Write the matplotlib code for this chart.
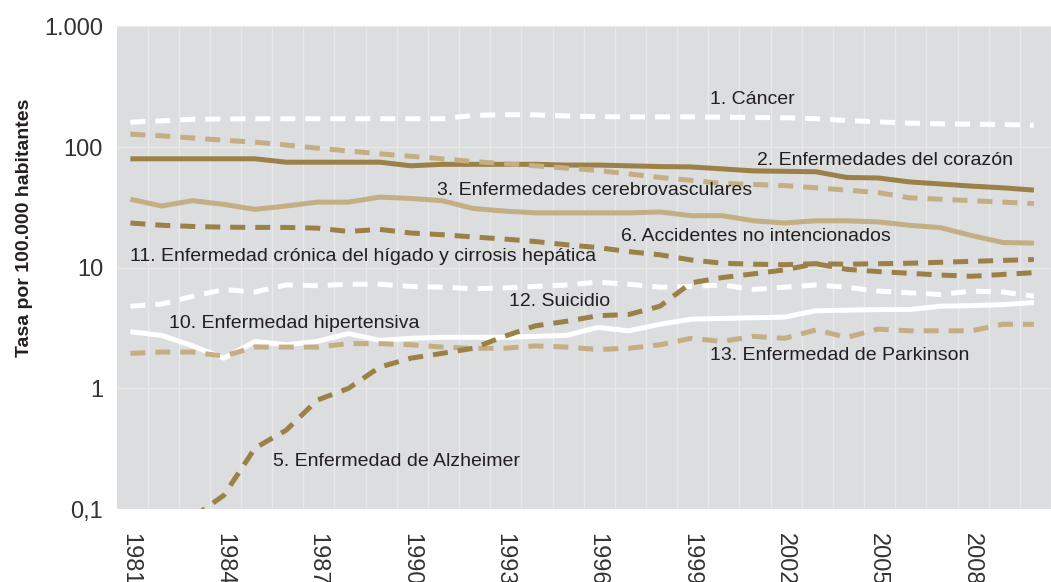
import numpy as np
import matplotlib
matplotlib.use("Agg")
import matplotlib.pyplot as plt
from matplotlib.ticker import FixedLocator, NullLocator

plt.rcParams['font.family'] = ['Liberation Sans', 'DejaVu Sans']

years = np.arange(1981, 2011)

# Tasas por 100.000 habitantes (escala logarítmica)
cancer = [161, 165, 170, 171, 172, 172, 172, 172, 172, 172, 172, 183, 186, 185, 181,
          179, 178, 178, 178, 177, 176, 175, 172, 166, 162, 158, 156, 155, 154, 152]
corazon = [80, 80, 80, 80, 80, 75, 75, 75, 75, 70, 72, 72, 72, 72, 71,
           71, 70, 69, 68.5, 66, 63.5, 63, 62.5, 56, 55.5, 51.5, 49.5, 47.5, 46, 44]
cerebro = [37, 32.5, 36, 33.5, 30.5, 32.5, 35, 35, 38.5, 37.5, 36, 31, 29.5, 28.5, 28.5,
           28.5, 28.5, 29, 27, 27, 24.5, 23.5, 24.5, 24.5, 24, 22.5, 21.5, 18.5, 16.2, 16]
respiratorias = [128, 124, 119, 114, 110, 104, 98, 93, 88, 84, 80, 76, 73, 70, 67,
                 64, 60, 56, 53, 50, 49, 48, 46, 44, 42, 38, 37, 36, 35, 34]
alzheimer = [np.nan, np.nan, 0.085, 0.13, 0.32, 0.45, 0.8, 1.0, 1.5, 1.78, 1.95, 2.15, 2.7, 3.3, 3.6,
             4.0, 4.1, 4.8, 7.5, 8.3, 8.9, 9.6, 10.8, 9.7, 9.3, 9.0, 8.7, 8.5, 8.8, 9.1]
accidentes = [23.5, 22.5, 22, 21.7, 21.6, 21.6, 21.3, 20, 20.8, 19.4, 18.8, 18, 17.3, 16.5, 15.5,
              14.7, 13.6, 12.8, 11.6, 10.9, 10.7, 10.6, 10.8, 10.7, 10.8, 10.9, 11.1, 11.3, 11.5, 11.7]
hipertensiva = [2.95, 2.75, 2.25, 1.78, 2.45, 2.3, 2.45, 2.85, 2.5, 2.6, 2.65, 2.65, 2.65, 2.7, 2.75,
                3.2, 3.0, 3.4, 3.75, 3.8, 3.85, 3.9, 4.4, 4.45, 4.5, 4.5, 4.8, 4.85, 4.95, 5.15]
suicidio = [4.8, 5.0, 5.8, 6.6, 6.3, 7.2, 7.1, 7.3, 7.3, 7.0, 6.9, 6.7, 6.8, 7.0, 7.2,
            7.6, 7.3, 6.9, 7.0, 7.2, 6.6, 6.9, 7.2, 6.9, 6.4, 6.2, 6.0, 6.4, 6.3, 5.8]
parkinson = [1.95, 2.0, 2.0, 1.85, 2.2, 2.2, 2.2, 2.35, 2.35, 2.3, 2.2, 2.15, 2.15, 2.25, 2.2,
             2.1, 2.15, 2.3, 2.6, 2.45, 2.7, 2.6, 3.05, 2.65, 3.1, 3.0, 3.0, 3.0, 3.4, 3.4]

# etiquetas: texto, año (borde izquierdo), valor (centro vertical)
labels = [
    ("1. Cáncer", 1999.6, 246),
    ("2. Enfermedades del corazón", 2001.1, 78),
    ("3. Enfermedades cerebrovasculares", 1990.85, 44),
    ("6. Accidentes no intencionados", 1996.75, 18),
    ("11. Enfermedad crónica del hígado y cirrosis hepática", 1980.98, 12.5),
    ("12. Suicidio", 1993.15, 5.3),
    ("10. Enfermedad hipertensiva", 1982.25, 3.48),
    ("13. Enfermedad de Parkinson", 1999.6, 1.89),
    ("5. Enfermedad de Alzheimer", 1985.57, 0.249),
]

DARK = '#9b8048'
TAN = '#c4ae84'
WHITE = '#ffffff'
BG = '#dcdddf'
TEXT = '#231f20'

fig = plt.figure(figsize=(10.51, 5.82), dpi=100)
ax = fig.add_axes([0.1113, 0.1254, 0.8887, 0.8291])
ax.set_facecolor(BG)

lw = 3.6
dash = (3, 2)
series = [
    (cerebro, TAN, '-'),
    (corazon, DARK, '-'),
    (hipertensiva, WHITE, '-'),
    (respiratorias, TAN, '--'),
    (parkinson, TAN, '--'),
    (cancer, WHITE, '--'),
    (suicidio, WHITE, '--'),
    (accidentes, DARK, '--'),
    (alzheimer, DARK, '--'),
]
for vals, col, ls in series:
    line, = ax.plot(years, vals, color=col, lw=lw, solid_capstyle='butt',
                    dash_capstyle='butt', zorder=3)
    if ls == '--':
        line.set_dashes(dash)

ax.set_yscale('log')
ax.set_ylim(0.1, 1000)
ax.set_xlim(1980.57, 2010.08)

ax.yaxis.set_major_locator(FixedLocator([0.1, 1, 10, 100, 1000]))
ax.yaxis.set_minor_locator(NullLocator())
ax.set_yticklabels(['0,1', '1', '10', '100', '1.000'])
ax.set_xticks(years[::3])
ax.set_xticklabels([str(y) for y in years[::3]], rotation=270)
ax.set_xticks(years + 0.55, minor=True)

ax.tick_params(axis='y', length=0, pad=10, labelsize=17, labelcolor='#333333')
ax.tick_params(axis='x', which='both', length=0, pad=17, labelsize=17, labelcolor='#333333')

ax.grid(True, which='minor', axis='x', color='#e9e9ea', lw=1, zorder=1)
ax.grid(True, which='major', axis='y', color='#e9e9ea', lw=1, zorder=1)
ax.grid(False, which='major', axis='x')
for s in ax.spines.values():
    s.set_visible(False)

for txt, x, y in labels:
    ax.text(x, y, txt, fontsize=14, color=TEXT, ha='left', va='center', zorder=5)

fig.text(25 / 1051, 1 - 228 / 582, 'Tasa por 100.000 habitantes', rotation=90,
         fontsize=14, fontweight='bold', color=TEXT, ha='center', va='center')

fig.savefig('out.png', dpi=100, facecolor='white')
